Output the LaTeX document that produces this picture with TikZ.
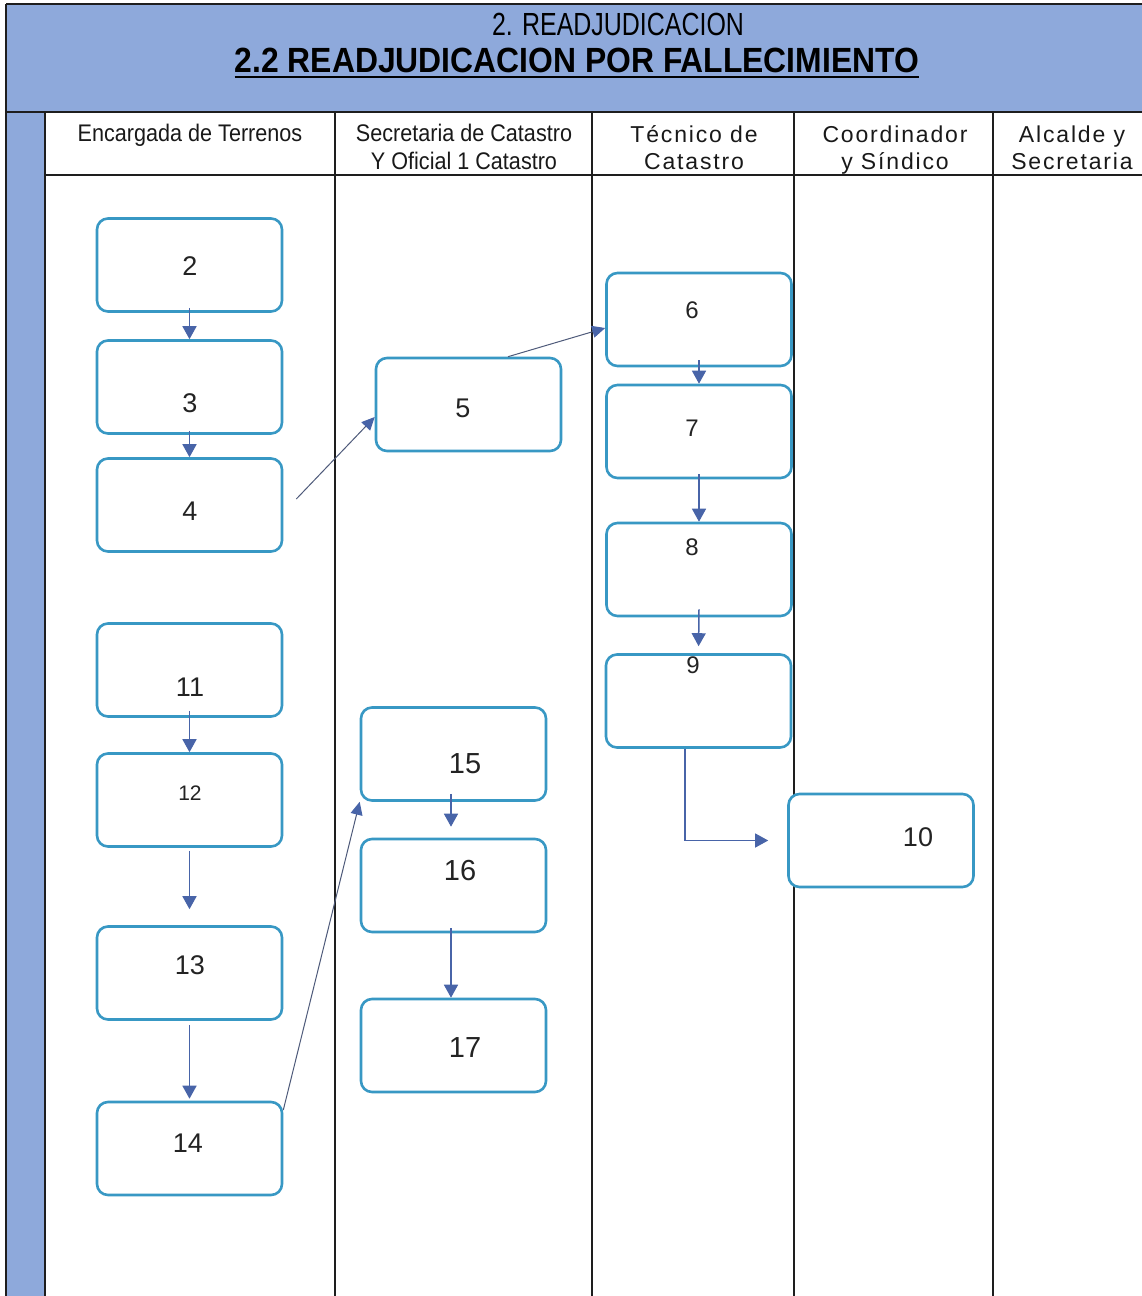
\documentclass[tikz,border=0pt]{standalone}
\usepackage{fontspec}
\setmainfont{Liberation Sans}
\newfontfamily\titlenarrow[FakeStretch=0.78]{Liberation Sans}
\newfontfamily\titlebold[FakeStretch=0.91]{Liberation Sans}
\newfontfamily\headnarrow[FakeStretch=0.9]{Liberation Sans}
\newfontfamily\headwide[LetterSpace=8]{Liberation Sans}
\usetikzlibrary{arrows.meta}

\definecolor{bandblue}{RGB}{142,169,219}
\definecolor{boxline}{RGB}{56,152,196}
\definecolor{flowblue}{RGB}{72,100,168}
\definecolor{linkgray}{RGB}{78,90,122}
\definecolor{ruleline}{RGB}{30,30,30}
\definecolor{digit}{RGB}{35,35,35}

\tikzset{
  stepbox/.style={draw=boxline, line width=2.6pt, rounded corners=11pt,
    minimum width=185pt, minimum height=93pt, fill=white, inner sep=0pt},
  num/.style={inner sep=0pt, text=digit, font=\fontsize{27}{30}\selectfont},
  numsm/.style={num, font=\fontsize{24}{28}\selectfont},
  numxs/.style={num, font=\fontsize{21}{24}\selectfont},
  numlg/.style={num, font=\fontsize{29}{32}\selectfont},
  flow/.style={draw=flowblue, line width=1.5pt, -{Triangle[length=13pt,width=14pt]}},
  link/.style={draw=linkgray, line width=1pt,
    -{Triangle[length=13pt,width=12pt,color=flowblue]}},
  frameline/.style={draw=ruleline, line width=2pt},
  hdn/.style={inner sep=0pt, anchor=base, text=black!90,
    font=\headnarrow\fontsize{24}{28}\selectfont},
  hdw/.style={inner sep=0pt, anchor=base, text=black!90,
    font=\headwide\fontsize{23}{28}\selectfont},
}

\begin{document}
\begin{tikzpicture}[x=1pt, y=-1pt]
\useasboundingbox (0,0) rectangle (1142,1296);
\fill[white] (0,0) rectangle (1142,1296);

% title band and left strip
\fill[bandblue] (6,4) rectangle (1142,112);
\fill[bandblue] (6,112) rectangle (45,1296);

% table rules
\draw[frameline] (6,4) -- (1142,4);
\draw[frameline] (6,4) -- (6,1296);
\draw[frameline] (6,112) -- (1142,112);
\draw[frameline] (45,175) -- (1142,175);
\foreach \xx in {45,335,592,794,993}
  \draw[frameline] (\xx,112) -- (\xx,1296);

% titles
\node[inner sep=0pt, anchor=base, font=\titlenarrow\fontsize{32}{36}\selectfont]
  (ttlA) at (618,35) {2. READJUDICACION};
\node[inner sep=0pt, anchor=base, font=\titlebold\bfseries\fontsize{35}{40}\selectfont]
  (ttlB) at (577,72) {2.2 READJUDICACION POR FALLECIMIENTO};
\draw[line width=2.5pt] ([yshift=-5pt]ttlB.base west) -- ([yshift=-5pt]ttlB.base east);

% lane headers
\node[hdn] (laneA) at (190,141) {Encargada de Terrenos};
\node[hdn] (laneB1) at (464,141) {Secretaria de Catastro};
\node[hdn] (laneB2) at (464,169) {Y Oficial 1 Catastro};
\node[hdw] (laneC1) at (694,142) {Técnico de};
\node[hdw] (laneC2) at (694,169) {Catastro};
\node[hdw] (laneD1) at (895,142) {Coordinador};
\node[hdw] (laneD2) at (895,169) {y Síndico};
\node[hdw] (laneE1) at (1072,142) {Alcalde y};
\node[hdw] (laneE2) at (1072,169) {Secretaria};

% process boxes
\node[stepbox] (b2)  at (189.5,265)    {};
\node[stepbox] (b3)  at (189.5,387)    {};
\node[stepbox] (b4)  at (189.5,505)    {};
\node[stepbox] (b5)  at (468.5,404.5)  {};
\node[stepbox] (b6)  at (699,319.5)    {};
\node[stepbox] (b7)  at (699,431.5)    {};
\node[stepbox] (b8)  at (699,569.5)    {};
\node[stepbox] (b9)  at (698.5,701)    {};
\node[stepbox] (b10) at (881,840.5)    {};
\node[stepbox] (b11) at (189.5,670)    {};
\node[stepbox] (b12) at (189.5,800)    {};
\node[stepbox] (b13) at (189.5,973)    {};
\node[stepbox] (b14) at (189.5,1148.5) {};
\node[stepbox] (b15) at (453.5,754)    {};
\node[stepbox] (b16) at (453.5,885.5)  {};
\node[stepbox] (b17) at (453.5,1045.5) {};

% box numbers
\node[num]   (n2)  at (190,266)  {2};
\node[num]   (n3)  at (190,403)  {3};
\node[num]   (n4)  at (190,511)  {4};
\node[num]   (n5)  at (463,408)  {5};
\node[numsm] (n6)  at (692,310)  {6};
\node[numsm] (n7)  at (692,428)  {7};
\node[numsm] (n8)  at (692,547)  {8};
\node[numsm] (n9)  at (693,665)  {9};
\node[num]   (n10) at (918,837)  {10};
\node[num]   (n11) at (190,687)  {11};
\node[numxs] (n12) at (190,793)  {12};
\node[num]   (n13) at (190,965)  {13};
\node[num]   (n14) at (188,1143) {14};
\node[numlg] (n15) at (465,764)  {15};
\node[numlg] (n16) at (460,871)  {16};
\node[numlg] (n17) at (465,1048) {17};

% connectors
\draw[flow] ([yshift=5pt]b2.south) -- (b3.north);
\draw[flow] ([yshift=4pt]b3.south) -- (b4.north);
\draw[link] ([xshift=13pt,yshift=6pt]b4.east) -- ([yshift=-12.5pt]b5.west);
\draw[link] ([xshift=39.5pt]b5.north) -- ([yshift=-8.5pt]b6.west);
\draw[flow] ([yshift=7pt]b6.south) -- (b7.north);
\draw[flow] ([yshift=5pt]b7.south) -- (b8.north);
\draw[flow, shorten >=7pt] ([yshift=8pt]b8.south) -- (b9.north);
\draw[flow, line width=1.2pt, shorten >=19pt] ([xshift=-13.5pt]b9.south) |- (b10.west);
\draw[flow] ([yshift=7pt]b11.south) -- (b12.north);
\draw[flow, shorten >=16pt] ([yshift=-3pt]b12.south) -- (b13.north);
\draw[flow, shorten >=2pt] ([yshift=-4pt]b13.south) -- (b14.north);
\draw[link] ([yshift=38.5pt]b14.east) -- (b15.south west);
\draw[flow, shorten >=11pt] ([xshift=-2.5pt,yshift=8pt]b15.south) -- ([xshift=-2.5pt]b16.north);
\draw[flow] ([xshift=-2.5pt,yshift=5pt]b16.south) -- ([xshift=-2.5pt]b17.north);
\end{tikzpicture}
\end{document}
